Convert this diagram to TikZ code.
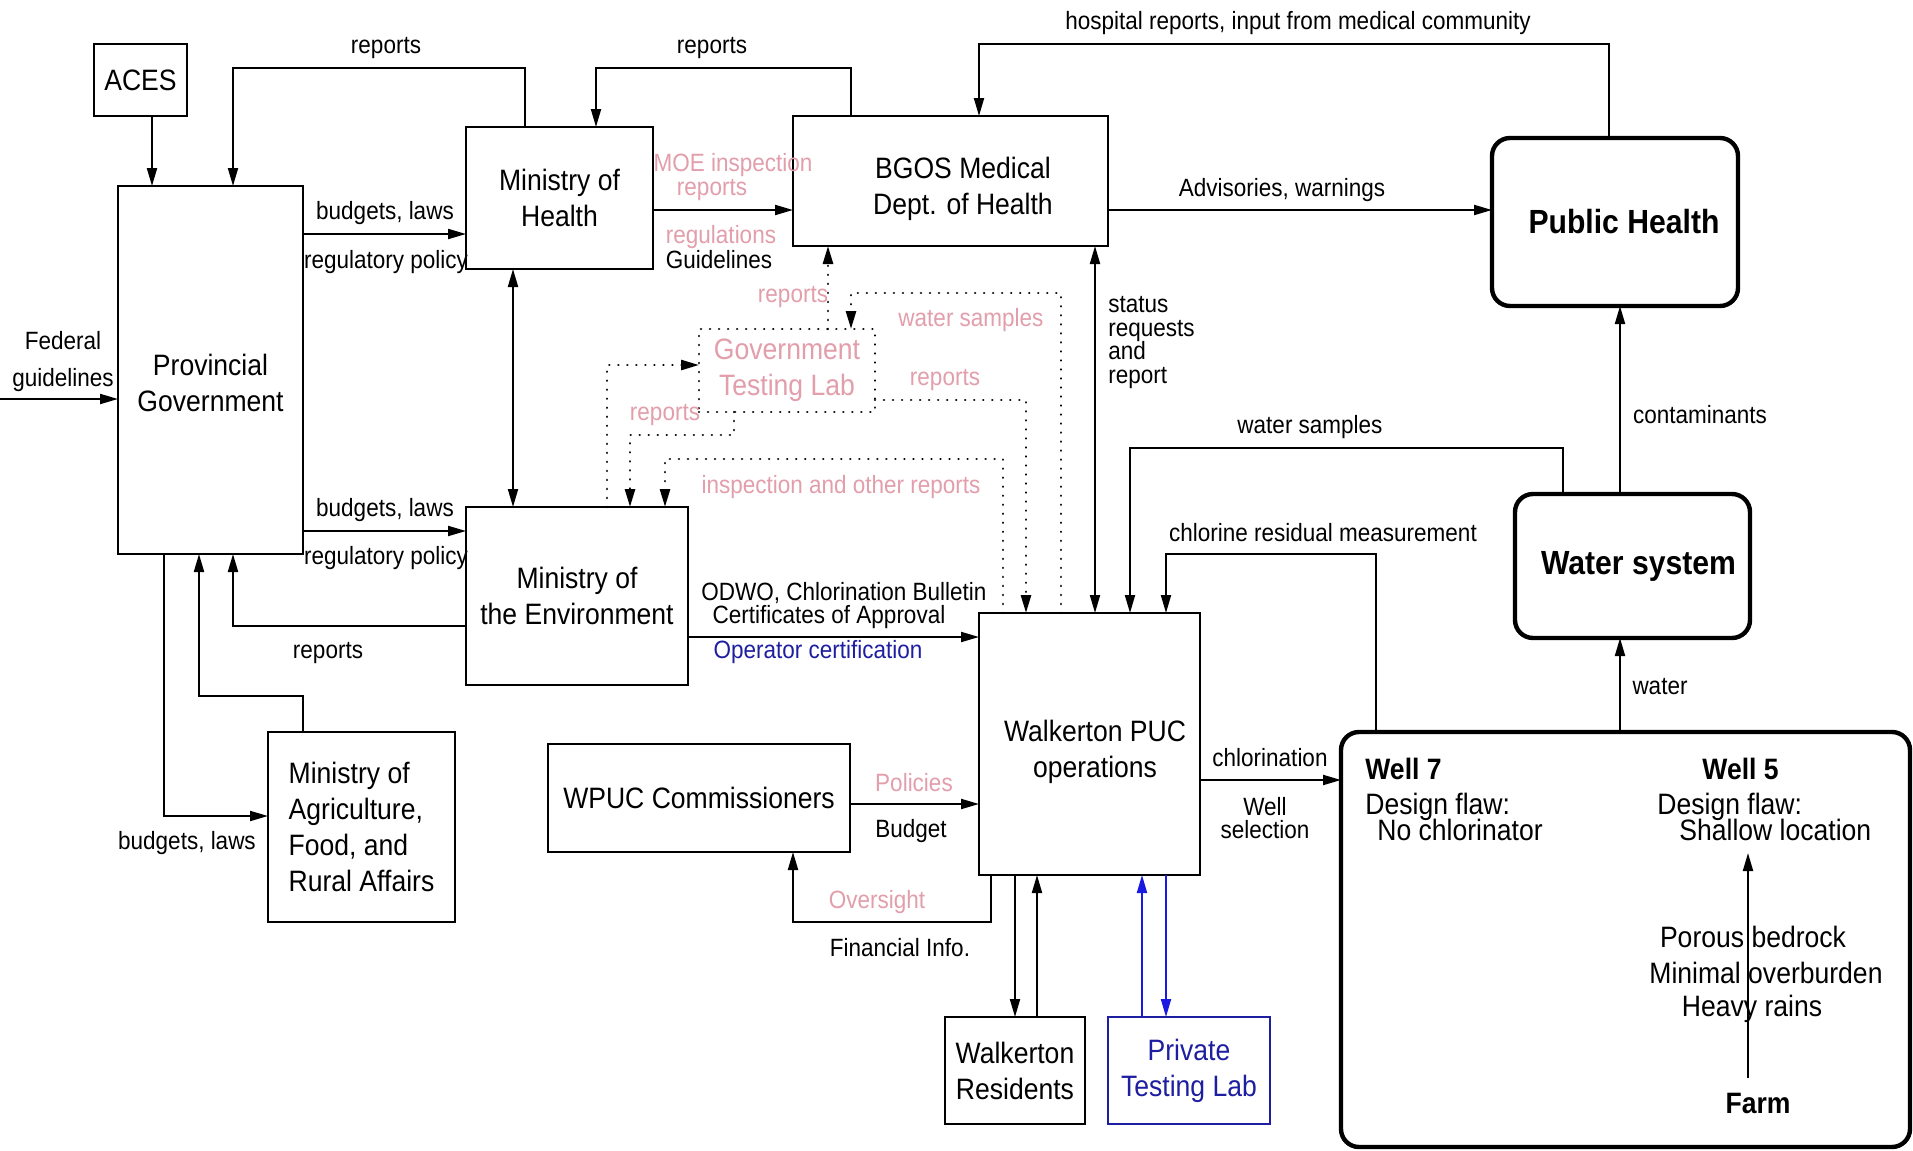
\documentclass[tikz,border=0pt]{standalone}
\usepackage{fontspec}
\setmainfont{Liberation Sans}[FakeStretch=0.9]
\usetikzlibrary{arrows.meta}
\definecolor{pinkT}{RGB}{226,158,170}
\definecolor{blueT}{RGB}{30,30,160}
\definecolor{blueA}{RGB}{25,25,225}
\newcommand\lblf{\fontsize{12.5pt}{12pt}\selectfont}
\newcommand\boxf{\fontsize{14.75pt}{18pt}\selectfont}
\newcommand\headf{\fontsize{16.75pt}{20pt}\selectfont\bfseries}
\begin{document}
\begin{tikzpicture}[x=0.5pt,y=-0.5pt,
  box/.style={draw, line width=1pt, inner sep=0pt, outer sep=0pt, align=center, font=\boxf},
  rbox/.style={draw, line width=2.2pt, rounded corners=9pt, inner sep=0pt, outer sep=0pt, align=center, font=\headf},
  dotbox/.style={box, dash pattern=on 0.01pt off 4.5pt, line cap=round, line width=1.3pt, text=pinkT},
  txt/.style={inner sep=0pt, font=\boxf, align=center},
  lbl/.style={inner sep=0pt, font=\lblf},
  pk/.style={text=pinkT},
  conn/.style={line width=1pt, -{Triangle[length=9pt,width=5pt]}},
  dbl/.style={line width=1pt, {Triangle[length=9pt,width=5pt]}-{Triangle[length=9pt,width=5pt]}},
  dconn/.style={conn, dash pattern=on 0.01pt off 4.5pt, line cap=round, line width=1.3pt},
]
\fill[white] (0,0) rectangle (1913,1151);
\useasboundingbox (0,0) rectangle (1913,1151);

% ---------- boxes ----------
\node[box, minimum width=46.5pt, minimum height=36pt] (aces) at (140.5,80) {ACES};
\node[box, minimum width=92.5pt, minimum height=184pt] (prov) at (210.5,370) {};
\node[txt] (provT) at (210.5,383) {Provincial\\Government};
\node[box, minimum width=93.5pt, minimum height=71pt] (moh) at (559.5,198) {Ministry of\\Health};
\node[box, minimum width=111pt, minimum height=89pt] (moe) at (577,596) {Ministry of\\the Environment};
\node[box, minimum width=93.5pt, minimum height=95pt, align=left] (moa) at (361.5,827) {Ministry of\\Agriculture,\\Food, and\\Rural Affairs};
\node[box, minimum width=157.5pt, minimum height=65pt] (bgos) at (950.5,181) {};
\node[txt] (bgosT) at (963,188.5) {BGOS Medical\\Dept. of Health};
\node[dotbox, minimum width=88pt, minimum height=41.5pt] (gtl) at (787,370.5) {Government\\Testing Lab};
\node[rbox, minimum width=123pt, minimum height=84pt] (ph) at (1615,222) {\hspace*{9pt}Public Health};
\node[rbox, minimum width=117.5pt, minimum height=72pt] (ws) at (1632.5,566) {\hspace*{6pt}Water system};
\node[box, minimum width=110.5pt, minimum height=131pt] (puc) at (1089.5,744) {};
\node[txt] (pucT) at (1095,751.5) {Walkerton PUC\\operations};
\node[box, minimum width=151pt, minimum height=54pt] (wpuc) at (699,798) {WPUC Commissioners};
\node[box, minimum width=70pt, minimum height=53.5pt] (res) at (1015,1070.5) {Walkerton\\Residents};
\node[box, draw=blueT, text=blueT, minimum width=81pt, minimum height=53.5pt] (ptl) at (1189,1070.5) {Private\\Testing Lab};
\node[rbox, minimum width=284.5pt, minimum height=207.5pt] (well) at (1625.5,939.5) {};

% ---------- well box contents ----------
\node[txt, font=\boxf\bfseries, anchor=west] (w7) at (1365,769) {Well 7};
\node[txt, font=\boxf\bfseries, anchor=west] (w5) at (1702,769) {Well 5};
\node[txt, anchor=west] (df7) at (1365,807) {Design flaw:};
\node[txt, anchor=west] (nc7) at (1377,830) {No chlorinator};
\node[txt, anchor=west] (df5) at (1657,807) {Design flaw:};
\node[txt, anchor=west] (sl5) at (1679,830) {Shallow location};
\node[txt] (pb) at (1753,937) {Porous bedrock};
\node[txt] (mo) at (1766,973) {Minimal overburden};
\node[txt] (hr) at (1752,1009) {Heavy rains};
\node[txt, font=\boxf\bfseries] (farm) at (1758,1103) {Farm};
\coordinate (w5tip) at (1748,853);
\draw[conn, shorten <=7pt] (farm.north -| w5tip) -- (w5tip);

% ---------- solid connectors ----------
\draw[conn] (aces.south -| 152,0) -- (prov.north -| 152,0);
\draw[conn] (moh.north -| 525,0) |- (233,68) -- (prov.north -| 233,0);
\draw[conn] (bgos.north -| 851,0) |- (596,68) -- (moh.north -| 596,0);
\draw[conn] (prov.east |- 0,234) -- (moh.west |- 0,234);
\draw[dbl] (moh.south -| 513,0) -- (moe.north -| 513,0);
\draw[conn] (prov.east |- 0,531) -- (moe.west |- 0,531);
\draw[conn] (moe.west |- 0,626) -| (prov.south -| 233,0);
\draw[conn] (moa.north -| 303,0) |- (199,696) -- (prov.south -| 199,0);
\draw[conn] (prov.south -| 164,0) |- (moa.west |- 0,816);
\coordinate (fedin) at (0,399);
\draw[conn] (fedin) -- (prov.west |- fedin);
\draw[conn] (bgos.east |- 0,210) -- (ph.west |- 0,210);
\draw[conn] (ph.north -| 1609,0) |- (979,44) -- (bgos.north -| 979,0);
\draw[conn] (moh.east |- 0,210) -- (bgos.west |- 0,210);
\draw[dbl] (bgos.south -| 1095,0) -- (puc.north -| 1095,0);
\draw[conn] (ws.north -| 1563,0) |- (1130,448) -- (puc.north -| 1130,0);
\draw[conn] (well.north -| 1376,0) |- (1166,554) -- (puc.north -| 1166,0);
\draw[conn] (ws.north -| 1620,0) -- (ph.south -| 1620,0);
\draw[conn] (well.north -| 1620,0) -- (ws.south -| 1620,0);
\draw[conn] (moe.east |- 0,637) -- (puc.west |- 0,637);
\draw[conn] (wpuc.east |- 0,804) -- (puc.west |- 0,804);
\draw[conn] (puc.south -| 991,0) |- (793,922) -- (wpuc.south -| 793,0);
\draw[conn] (puc.south -| 1015,0) -- (res.north -| 1015,0);
\draw[conn] (res.north -| 1037,0) -- (puc.south -| 1037,0);
\draw[conn, blueA] (ptl.north -| 1142,0) -- (puc.south -| 1142,0);
\draw[conn, blueA] (puc.south -| 1166,0) -- (ptl.north -| 1166,0);
\draw[conn] (puc.east |- 0,780) -- (well.west |- 0,780);

% ---------- dotted connectors ----------
\draw[dconn] (gtl.north -| 828,0) -- (bgos.south -| 828,0);
\draw[dconn] (puc.north -| 1061,0) |- (851,293) -- (gtl.north -| 851,0);
\draw[dconn] (gtl.east |- 0,400) -| (puc.north -| 1026,0);
\draw[dconn] (moe.north -| 607,0) |- (gtl.west |- 0,365);
\draw[dconn] (gtl.south -| 734,0) |- (630,435) -- (moe.north -| 630,0);
\draw[dconn] (puc.north -| 1003,0) |- (665,459) -- (moe.north -| 665,0);

% ---------- labels ----------
\node[lbl] (l1) at (386,48) {reports};
\node[lbl] (l2) at (712,48) {reports};
\node[lbl] (l3) at (1298,23) {hospital reports, input from medical community};
\node[lbl] (l4) at (385,213) {budgets, laws};
\node[lbl] (l5) at (386,262) {regulatory policy};
\node[lbl] (l6) at (385,510) {budgets, laws};
\node[lbl] (l7) at (386,558) {regulatory policy};
\node[lbl] (l8) at (328,653) {reports};
\node[lbl] (l9) at (187,843) {budgets, laws};
\node[lbl, align=center, font={\fontsize{12.5pt}{18.5pt}\selectfont}] (l10) at (63,361.5) {Federal\\guidelines};
\node[lbl, pk] (l11) at (733,165) {MOE inspection};
\node[lbl, pk] (l12) at (712,190) {reports};
\node[lbl, pk] (l13) at (721,237) {regulations};
\node[lbl] (l14) at (719,260) {Guidelines};
\node[lbl] (l15) at (1282,190) {Advisories, warnings};
\node[lbl, align=left, anchor=west, font={\fontsize{12.5pt}{11.85pt}\selectfont}] (l16) at (1108,342.5) {status\\requests\\and\\report};
\node[lbl, pk] (l17) at (793,297) {reports};
\node[lbl, pk] (l18) at (971,320) {water samples};
\node[lbl, pk] (l19) at (945,380) {reports};
\node[lbl, pk] (l20) at (665,415) {reports};
\node[lbl, pk] (l21) at (841,487) {inspection and other reports};
\node[lbl] (l22) at (1310,427) {water samples};
\node[lbl] (l23) at (1323,533) {chlorine residual measurement};
\node[lbl] (l24) at (1700,415) {contaminants};
\node[lbl] (l25) at (1660,687) {water};
\node[lbl] (l26) at (844,593) {ODWO, Chlorination Bulletin};
\node[lbl] (l27) at (829,617) {Certificates of Approval};
\node[lbl, text=blueT] (l28) at (818,652) {Operator certification};
\node[lbl, pk] (l29) at (914,783) {Policies};
\node[lbl] (l30) at (911,831) {Budget};
\node[lbl, pk] (l31) at (877,902) {Oversight};
\node[lbl] (l32) at (900,948) {Financial Info.};
\node[lbl] (l33) at (1270,758) {chlorination};
\node[lbl, align=center, font={\fontsize{12.5pt}{11.5pt}\selectfont}] (l34) at (1265,818.5) {Well\\selection};
\end{tikzpicture}
\end{document}
